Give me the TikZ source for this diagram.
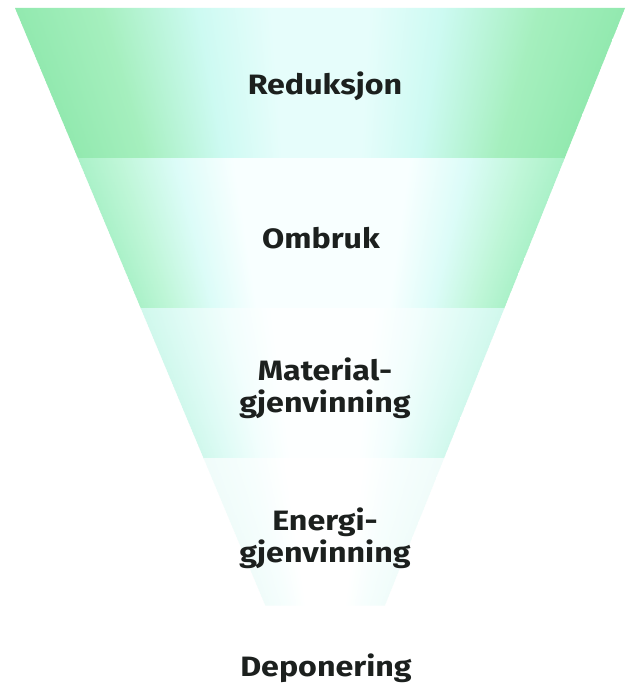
\documentclass[tikz,border=0pt]{standalone}
\usepackage{fontspec}
\setmainfont{Fira Sans}
% band A colours
\definecolor{a0}{RGB}{146,233,175}
\definecolor{a1}{RGB}{165,239,190}
\definecolor{a2}{RGB}{205,250,242}
\definecolor{a3}{RGB}{230,253,251}
% band B colours
\definecolor{b0}{RGB}{170,241,200}
\definecolor{b1}{RGB}{190,246,215}
\definecolor{b2}{RGB}{220,252,248}
\definecolor{b3}{RGB}{248,255,255}
% band C colours
\definecolor{c0}{RGB}{208,248,236}
\definecolor{c1}{RGB}{222,251,245}
\definecolor{c2}{RGB}{242,254,253}
\definecolor{c3}{RGB}{253,255,255}
% band D colours
\definecolor{d0}{RGB}{240,252,250}
\definecolor{d1}{RGB}{246,254,253}
\definecolor{d3}{RGB}{255,255,255}
\definecolor{ink}{RGB}{28,32,30}
% the path box is mapped onto 25bp..75bp
\pgfdeclarehorizontalshading{bandA}{100bp}{color(0bp)=(a0); color(25bp)=(a0); color(32bp)=(a1); color(40bp)=(a2); color(46bp)=(a3); color(54bp)=(a3); color(60bp)=(a2); color(68bp)=(a1); color(75bp)=(a0); color(100bp)=(a0)}
\pgfdeclarehorizontalshading{bandB}{100bp}{color(0bp)=(b0); color(25bp)=(b0); color(29bp)=(b1); color(35bp)=(b2); color(41bp)=(b3); color(59bp)=(b3); color(65bp)=(b2); color(71bp)=(b1); color(75bp)=(b0); color(100bp)=(b0)}
\pgfdeclarehorizontalshading{bandC}{100bp}{color(0bp)=(c0); color(25bp)=(c0); color(30bp)=(c1); color(37bp)=(c2); color(43bp)=(c3); color(57bp)=(c3); color(63bp)=(c2); color(70bp)=(c1); color(75bp)=(c0); color(100bp)=(c0)}
\pgfdeclarehorizontalshading{bandD}{100bp}{color(0bp)=(d0); color(25bp)=(d0); color(34bp)=(d1); color(42bp)=(d3); color(58bp)=(d3); color(66bp)=(d1); color(75bp)=(d0); color(100bp)=(d0)}
\newcommand\stx[1]{\scalebox{1.15}[1]{#1}}
\tikzset{lab/.style={font=\fontsize{28}{32}\selectfont\bfseries, text=ink, align=center, inner sep=0pt}}
\begin{document}
\begin{tikzpicture}[x=1pt,y=-1pt]
\useasboundingbox (0,0) rectangle (638,690);
\fill[white] (0,0) rectangle (638,690);
\foreach \sh/\ya/\yb in {bandA/8/155, bandB/158/305, bandC/308/455, bandD/458/602}{
  \pgfmathtruncatemacro\yn{\ya+3}
  \foreach \y in {\ya,\yn,...,\yb}{
    \shade[shading=\sh] ({15+0.419*(\y-8)},{\y}) -- ({625-0.402*(\y-8)},{\y}) -- ({625-0.402*(\y-4.4)},{\y+3.6}) -- ({15+0.419*(\y-4.4)},{\y+3.6}) -- cycle;
  }
}
\node[lab] (red) at (325,86) {\stx{Reduksjon}};
\node[lab] (omb) at (321,238) {\stx{Ombruk}};
\node[lab] (mat) at (325,388) {\stx{Material-}\\\stx{gjenvinning}};
\node[lab] (ene) at (325,538) {\stx{Energi-}\\\stx{gjenvinning}};
\node[lab] (dep) at (326,668) {\stx{Deponering}};
\end{tikzpicture}
\end{document}
